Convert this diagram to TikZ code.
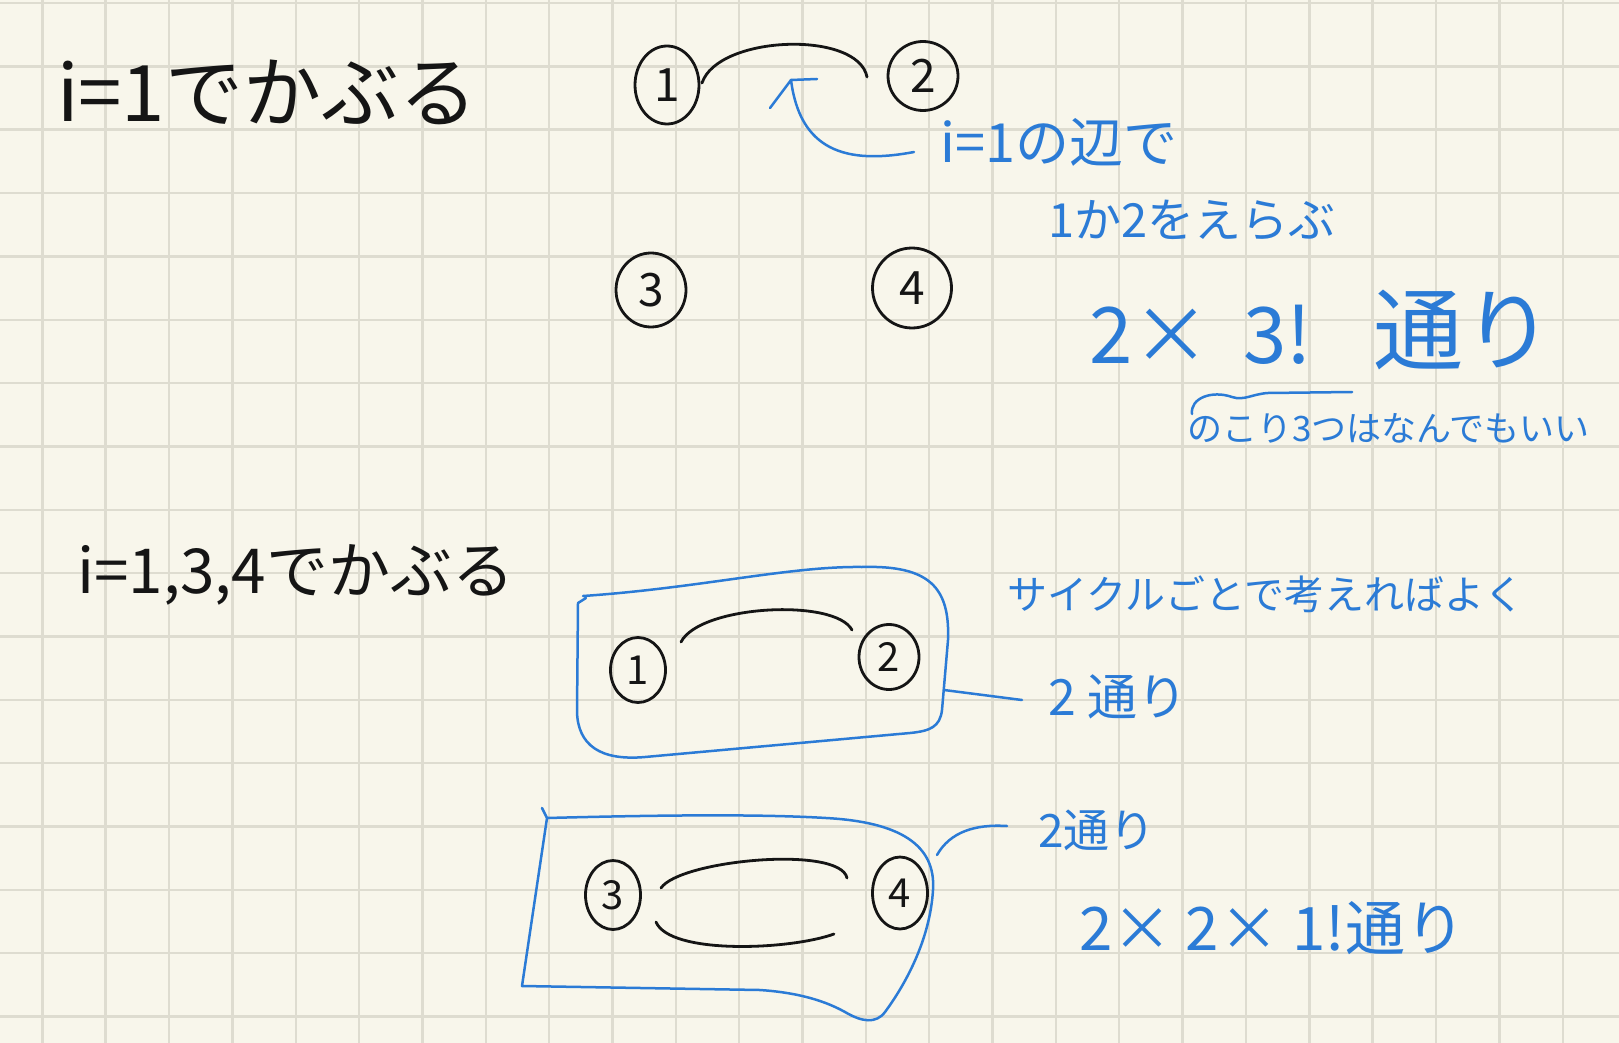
\documentclass[tikz,border=0pt]{standalone}
\usepackage{fontspec}
\newfontfamily\jp{Noto Sans CJK JP}
\usetikzlibrary{shapes.geometric,calc}
\definecolor{paper}{HTML}{F8F6EB}
\definecolor{gridc}{HTML}{DEDCD0}
\definecolor{ink}{HTML}{151515}
\definecolor{pen}{HTML}{2B7BD6}
\begin{document}
\begin{tikzpicture}[x=1pt,y=-1pt,
  gridline/.style={draw=gridc,line width=2.4pt},
  vtx/.style={ellipse,draw=ink,line width=2.8pt,inner sep=0pt,text=ink,font=\jp\fontsize{46}{46}\selectfont},
  svtx/.style={vtx,font=\jp\fontsize{40}{40}\selectfont},
  blk/.style={inner sep=0pt,anchor=west,text=ink},
  lbl/.style={inner sep=0pt,anchor=west,text=pen},
  edge/.style={draw=ink,line width=2.8pt,line cap=round},
  bluel/.style={draw=pen,line width=2.5pt,line cap=round,line join=round}]
\fill[paper] (0,0) rectangle (1619,1043);
\useasboundingbox (0,0) rectangle (1619,1043);
\foreach \i in {0,...,24} \draw[gridline] ({42.3+63.35*\i},0) -- ({42.3+63.35*\i},1043);
\foreach \j in {0,...,16} \draw[gridline] (0,{3+63.35*\j}) -- (1619,{3+63.35*\j});

% ---- top part
\node[blk,font=\jp\fontsize{78}{78}\selectfont] (t0) at (57,92) {i=1でかぶる};
\node[vtx,minimum width=64pt,minimum height=78pt] (n1) at (667,85) {1};
\node[vtx,minimum width=70pt,minimum height=69pt] (n2) at (923,76) {2};
\node[vtx,minimum width=70pt,minimum height=74pt] (n3) at (651,290) {3};
\node[vtx,minimum width=79pt,minimum height=80pt] (n4) at (912,288) {4};
\draw[edge] ($(n1)+(35,-2)$) .. controls (718,35) and (858,30) .. ($(n2)+(-56,1)$);

\node[lbl,font=\jp\fontsize{54}{54}\selectfont] (t1) at (940,142) {i=1の辺で};
\node[lbl,font=\jp\fontsize{47}{47}\selectfont] (t2) at (1048,220) {1か2をえらぶ};
\node[lbl,font=\jp\fontsize{78}{78}\selectfont] (t3) at (1089,330) {2×\hspace{33pt}3!\hspace{62pt}{\fontsize{90}{90}\selectfont 通り}};
\node[lbl,font=\jp\fontsize{35}{35}\selectfont] (t4) at (1187,428) {のこり3つはなんでもいい};
\coordinate (tip) at (791,80);
\draw[bluel] ($(t1.west)+(-26,10)$) .. controls (845,165) and (800,150) .. (tip)
  -- ++(26,-1);
\draw[bluel] (tip) -- ++(-21,28);
\draw[bluel] (1192,414) .. controls (1190,398) and (1212,390) .. (1232,397)
  .. controls (1244,401) and (1252,394) .. (1268,393) -- (1352,392);

% ---- bottom part
\node[blk,font=\jp\fontsize{62}{62}\selectfont] (t5) at (77,575) {i=1,3,4でかぶる};
\node[svtx,minimum width=55pt,minimum height=65pt] (b1) at (638,670) {1};
\node[svtx,minimum width=60pt,minimum height=65pt] (b2) at (889,657) {2};
\node[svtx,minimum width=55pt,minimum height=69pt] (b3) at (613,895) {3};
\node[svtx,minimum width=55pt,minimum height=72pt] (b4) at (900,893) {4};
\draw[edge] ($(b1)+(43,-28)$) .. controls (700,605) and (835,598) .. ($(b2)+(-37,-27)$);
\draw[edge] ($(b3)+(48,-7)$) .. controls (680,860) and (840,845) .. ($(b4)+(-53,-15)$);
\draw[edge] ($(b3)+(43,27)$) .. controls (670,955) and (790,950) .. ($(b4)+(-66,41)$);

% blue boxes
\draw[bluel] (583,596) .. controls (700,588) and (790,566) .. (862,567)
  .. controls (930,565) and (950,588) .. (948,640) -- (942,710)
  .. controls (940,727) and (930,731) .. (910,733) -- (645,757)
  .. controls (600,761) and (578,745) .. (577,712) -- (578,603) -- (586,598);
\draw[bluel] (542,808) -- (547,818) .. controls (660,815) and (760,814) .. (826,818)
  .. controls (900,822) and (936,845) .. (933,890)
  .. controls (930,940) and (905,985) .. (885,1012)
  .. controls (876,1024) and (862,1022) .. (845,1012)
  .. controls (820,998) and (790,992) .. (760,990) -- (522,986)
  -- (547,818);

\node[lbl,font=\jp\fontsize{40}{40}\selectfont] (t6) at (1007,594) {サイクルごとで考えればよく};
\node[lbl,font=\jp\fontsize{50}{50}\selectfont] (l21) at (1048,697) {2 通り};
\node[lbl,font=\jp\fontsize{46}{46}\selectfont] (l22) at (1038,830) {2通り};
\node[lbl,font=\jp\fontsize{60}{60}\selectfont] (t7) at (1079,928) {2× 2× 1!通り};
\coordinate (box1r) at (944,690);
\coordinate (box2r) at (937,855);
\draw[bluel] (box1r) -- ($(l21.west)+(-26,3)$);
\draw[bluel] (box2r) .. controls (950,832) and (975,824) .. ($(l22.west)+(-31,-4)$);
\end{tikzpicture}
\end{document}
